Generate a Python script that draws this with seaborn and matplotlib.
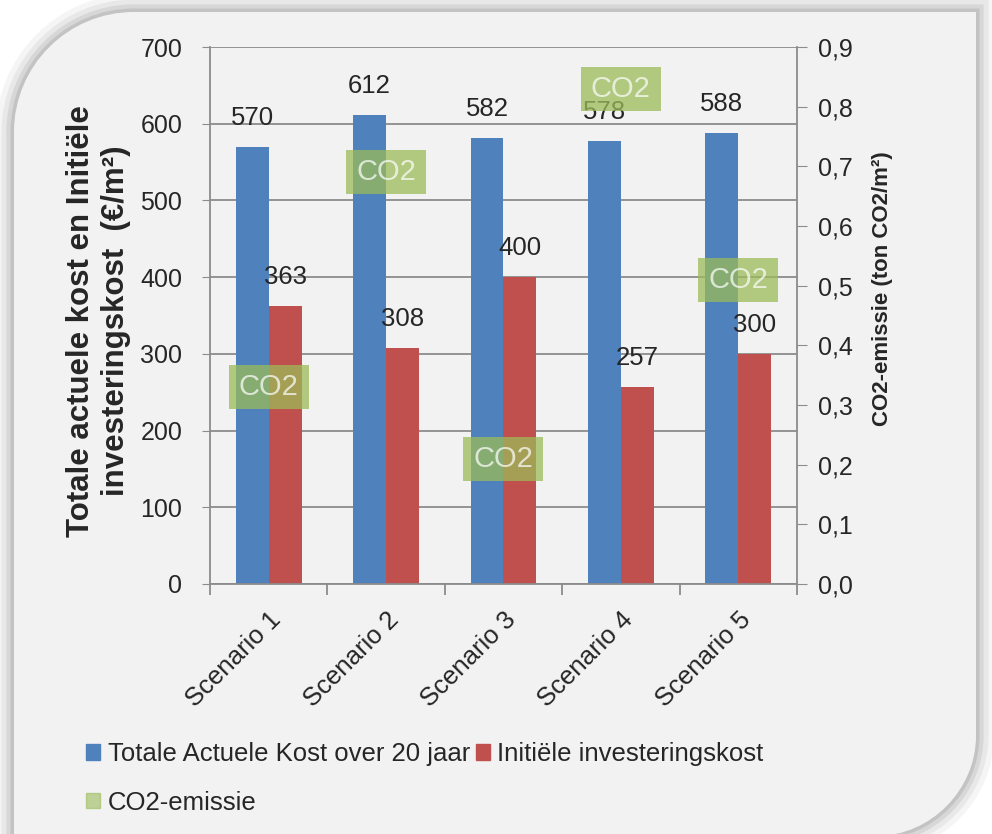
import numpy as np
import pandas as pd
import seaborn as sns
import matplotlib
matplotlib.use('Agg')
import matplotlib.pyplot as plt
from matplotlib.path import Path
from matplotlib.patches import PathPatch, Patch
from matplotlib.transforms import IdentityTransform
from matplotlib.ticker import FuncFormatter, FixedLocator

scenarios = ['Scenario 1', 'Scenario 2', 'Scenario 3', 'Scenario 4', 'Scenario 5']
total_cost = [570, 612, 582, 578, 588]
initial_cost = [363, 308, 400, 257, 300]
co2 = [0.33, 0.69, 0.21, 0.83, 0.51]

series_names = ['Totale Actuele Kost over 20 jaar', 'Initiële investeringskost']
co2_name = 'CO2-emissie'

blue = '#4f81bd'
red = '#c0504d'
green = '#9bbb59'
grid_col = '#8c8c8c'

df = pd.DataFrame({
    'Scenario': scenarios * 2,
    'Reeks': [series_names[0]] * 5 + [series_names[1]] * 5,
    'Waarde': total_cost + initial_cost,
})

sns.set_style('white')
plt.rcParams['font.family'] = ['Liberation Sans', 'DejaVu Sans']

fig = plt.figure(figsize=(9.92, 8.34), dpi=100, facecolor='white')

# rounded background panel with soft shadow (pixel coords)
L, R, B, T = 14, 976, -2, 822
r1, r2 = 120, 100
k = 0.5523
verts = [(L, B), (R - r2, B),
         (R - r2 + k * r2, B), (R, r2 - k * r2), (R, B + r2),
         (R, T), (L + r1, T),
         (L + r1 - k * r1, T), (L, T - r1 + k * r1), (L, T - r1),
         (L, B)]
codes = [Path.MOVETO, Path.LINETO,
         Path.CURVE4, Path.CURVE4, Path.CURVE4,
         Path.LINETO, Path.LINETO,
         Path.CURVE4, Path.CURVE4, Path.CURVE4,
         Path.CLOSEPOLY]
panel = Path(verts, codes)
for w, a in [(26, 0.04), (18, 0.05), (11, 0.07), (5, 0.09)]:
    fig.add_artist(PathPatch(panel, fill=False, edgecolor='black', lw=w, alpha=a,
                             transform=IdentityTransform(), zorder=-10))
fig.add_artist(PathPatch(panel, facecolor='#f2f2f2', edgecolor='none',
                         transform=IdentityTransform(), zorder=-9))

ax = fig.add_axes([0.2117, 0.2998, 0.5917, 0.6438])
ax.set_facecolor('none')

sns.barplot(data=df, x='Scenario', y='Waarde', hue='Reeks', palette=[blue, red],
            width=0.56, linewidth=0, saturation=1, legend=False, ax=ax)
for c in ax.containers:
    ax.bar_label(c, fmt='%d', padding=12, fontsize=18.5)

ax.set_xlim(-0.5, 4.5)
ax.set_ylim(0, 700)
ax.set_yticks(range(0, 701, 100))
ax.yaxis.grid(True, color=grid_col, lw=1.3)
ax.set_axisbelow(True)
for s in ['left', 'bottom']:
    ax.spines[s].set_color(grid_col)
    ax.spines[s].set_linewidth(1.3)
ax.spines['top'].set_visible(False)
ax.spines['right'].set_visible(False)
ax.tick_params(axis='y', direction='out', length=6, color=grid_col, labelsize=18, pad=14, left=True)
ax.set_xlabel('')
ax.set_xticks(range(len(scenarios)))
ax.set_xticklabels(scenarios, rotation=45, ha='right', va='top', rotation_mode='anchor', fontsize=18.5)
ax.tick_params(axis='x', which='major', length=0, pad=17)
ax.xaxis.set_minor_locator(FixedLocator(np.arange(-0.5, len(scenarios), 1.0)))
ax.tick_params(axis='x', which='minor', direction='out', length=8, color=grid_col, width=1.3, bottom=True)
ax.set_ylabel('Totale actuele kost en Initiële\ninvesteringskost  (€/m²)', fontsize=22.5,
              fontweight='bold', linespacing=1.2)
ax.yaxis.set_label_coords(-0.135, 0.49)

ax2 = ax.twinx()
ax2.set_facecolor('none')
box = Path([(-1.85, -1), (1.85, -1), (1.85, 1), (-1.85, 1), (-1.85, -1)],
           [Path.MOVETO, Path.LINETO, Path.LINETO, Path.LINETO, Path.CLOSEPOLY])
xpos = np.arange(len(scenarios))
sns.scatterplot(x=xpos, y=co2, marker=box, s=3318, color=green, alpha=0.75,
                linewidth=0, ax=ax2, legend=False)
for i, v in enumerate(co2):
    ax2.text(xpos[i], v, 'CO2', ha='center', va='center', fontsize=21,
             color='white', alpha=0.7)
ax2.set_ylim(0, 0.9)
ax2.set_yticks(np.arange(0, 0.91, 0.1))
ax2.yaxis.set_major_formatter(FuncFormatter(lambda v, p: f'{v:.1f}'.replace('.', ',')))
for s in ['left', 'top', 'bottom']:
    ax2.spines[s].set_visible(False)
ax2.spines['right'].set_color(grid_col)
ax2.spines['right'].set_linewidth(1.3)
ax2.tick_params(axis='y', direction='out', length=7, color=grid_col, labelsize=18, pad=8, right=True)
ax2.set_ylabel('CO2-emissie (ton CO2/m²)', fontsize=16, fontweight='bold')
ax2.yaxis.set_label_coords(1.128, 0.55)

handles = [Patch(color=blue, label=series_names[0]),
           Patch(color=green, alpha=0.6, label=co2_name),
           Patch(color=red, label=series_names[1])]
fig.legend(handles=handles, ncol=2, loc='upper left', bbox_to_anchor=(0.087, 0.11),
           frameon=False, fontsize=18.5, handlelength=0.55, handleheight=0.55,
           handletextpad=0.3, columnspacing=0.2, labelspacing=0.95, borderpad=0,
           borderaxespad=0)

plt.savefig('out.png', dpi=100, facecolor='white')
plt.close('all')
